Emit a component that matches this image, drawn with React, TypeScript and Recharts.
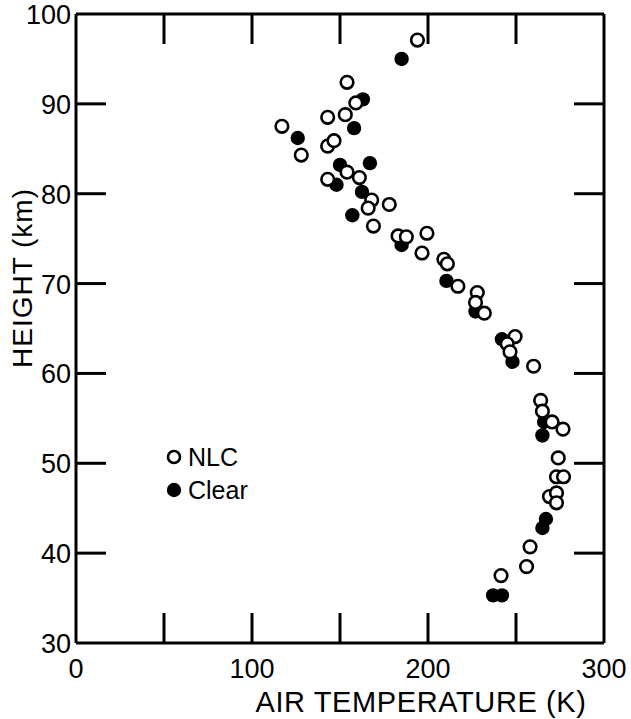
import React from 'react';
import { ScatterChart, Scatter, XAxis, YAxis, Legend, ReferenceLine } from 'recharts';

// NLC (open circles)
const nlcTemp = [194, 154, 159, 143, 153, 117, 128, 143, 146.6, 154, 143, 161, 168, 166, 178, 169, 183, 187.7, 199.4, 196.6, 209, 211, 217, 228, 227, 232, 249.5, 245, 246.6, 260, 264, 265, 270.5, 276.7, 274, 273, 277, 269, 273, 273, 258, 256, 241.5];
const nlcHeight = [97.1, 92.4, 90.1, 88.5, 88.8, 87.5, 84.3, 85.3, 85.9, 82.4, 81.6, 81.8, 79.3, 78.4, 78.8, 76.4, 75.3, 75.2, 75.6, 73.4, 72.7, 72.2, 69.7, 69.0, 67.9, 66.7, 64.1, 63.3, 62.4, 60.8, 57.0, 55.8, 54.6, 53.8, 50.6, 48.5, 48.5, 46.3, 46.7, 45.6, 40.7, 38.5, 37.5];

// Clear (filled circles)
const clearTemp = [185, 163, 158, 126, 150, 167, 148, 162.5, 157, 185, 210.5, 227, 242, 248, 266, 265, 267, 265, 237, 242];
const clearHeight = [95.0, 90.5, 87.3, 86.2, 83.2, 83.4, 81.0, 80.2, 77.6, 74.3, 70.3, 66.9, 63.8, 61.3, 54.6, 53.1, 43.8, 42.8, 35.3, 35.3];

const xTicks = [0, 50, 100, 150, 200, 250, 300];
const xInnerTicks = [50, 100, 150, 200, 250];
const xLabels = [0, 100, 200, 300];
const yTicks = [30, 40, 50, 60, 70, 80, 90, 100];
const yInnerTicks = [40, 50, 60, 70, 80, 90];
const legendOrder = ['NLC', 'Clear'];

const nlcData = nlcTemp.map((t, i) => ({ t, h: nlcHeight[i] }));
const clearData = clearTemp.map((t, i) => ({ t, h: clearHeight[i] }));

const FONT = "'Liberation Sans', Arial, Helvetica, sans-serif";
const TICK_LEN = 30;
const SW = 3;

const BottomLabel = (props: any) => {
  const x = Number(props.x);
  const y = Number(props.y);
  const v = Number(props.payload.value);
  if (!xLabels.includes(v)) return <g />;
  return (
    <text x={x} y={y + 35} textAnchor="middle" fontSize={27} fontFamily={FONT} fill="#000" stroke="none">
      {v}
    </text>
  );
};

const LeftLabel = (props: any) => {
  const x = Number(props.x);
  const y = Number(props.y);
  const v = Number(props.payload.value);
  return (
    <text x={x - 5} y={y + 10} textAnchor="end" fontSize={27} fontFamily={FONT} fill="#000" stroke="none">
      {v}
    </text>
  );
};

const NoLabel = () => <g />;

// Inward tick marks at both ends of a vertical reference line (top & bottom frame)
const VTickPair = (props: any) => {
  const x1 = Number(props.x1), y1 = Number(props.y1), x2 = Number(props.x2), y2 = Number(props.y2);
  const top = Math.min(y1, y2);
  const bot = Math.max(y1, y2);
  return (
    <g>
      <path d={`M${x1},${top} L${x1},${top + TICK_LEN}`} stroke="#000" strokeWidth={SW} fill="none" />
      <path d={`M${x2},${bot} L${x2},${bot - TICK_LEN}`} stroke="#000" strokeWidth={SW} fill="none" />
    </g>
  );
};

// Inward tick marks at both ends of a horizontal reference line (left & right frame)
const HTickPair = (props: any) => {
  const x1 = Number(props.x1), y1 = Number(props.y1), x2 = Number(props.x2), y2 = Number(props.y2);
  const left = Math.min(x1, x2);
  const right = Math.max(x1, x2);
  return (
    <g>
      <path d={`M${left},${y1} L${left + TICK_LEN},${y1}`} stroke="#000" strokeWidth={SW} fill="none" />
      <path d={`M${right},${y2} L${right - TICK_LEN},${y2}`} stroke="#000" strokeWidth={SW} fill="none" />
    </g>
  );
};

const OpenDot = (props: any) => (
  <circle cx={props.cx} cy={props.cy} r={6.3} fill="#fff" stroke="#000" strokeWidth={2.6} />
);
const FilledDot = (props: any) => (
  <circle cx={props.cx} cy={props.cy} r={7.2} fill="#000" stroke="none" />
);

const XTitle = (props: any) => {
  const vb = props.viewBox || { x: 76, y: 643, width: 528 };
  return (
    <text x={Number(vb.x) + 345} y={Number(vb.y) + 69} textAnchor="middle" fontSize={29} fontFamily={FONT} fill="#000" letterSpacing={0.6}>
      AIR TEMPERATURE (K)
    </text>
  );
};

const YTitle = (props: any) => {
  const vb = props.viewBox || { x: 0, y: 14, width: 76, height: 629 };
  const cx = 22;
  const cy = Number(vb.y) + 264;
  return (
    <text
      x={cx}
      y={cy}
      transform={`rotate(-90 ${cx} ${cy})`}
      textAnchor="middle"
      dominantBaseline="central"
      fontSize={28}
      fontFamily={FONT}
      fill="#000"
      letterSpacing={1}
    >
      HEIGHT (km)
    </text>
  );
};

const LegendContent = (props: any) => {
  const payload = [...(props.payload || [])].sort(
    (a: any, b: any) => legendOrder.indexOf(a.value) - legendOrder.indexOf(b.value)
  );
  return (
    <svg width={120} height={70} style={{ display: 'block', overflow: 'visible' }}>
      {payload.map((p: any, i: number) => {
        const yy = 15 + i * 33;
        const open = p.value === 'NLC';
        return (
          <g key={p.value}>
            {open ? (
              <circle cx={14} cy={yy} r={6} fill="#fff" stroke="#000" strokeWidth={2.6} />
            ) : (
              <circle cx={14} cy={yy} r={7.2} fill="#000" />
            )}
            <text x={28} y={yy + 9} fontSize={25} fontFamily={FONT} fill="#000">
              {p.value}
            </text>
          </g>
        );
      })}
    </svg>
  );
};

export default function App() {
  return (
    <div style={{ position: 'absolute', left: 0, top: 0, width: 631, height: 719, background: '#fff' }}>
      <ScatterChart width={631} height={719} margin={{ top: 13, right: 26, bottom: 0, left: 0 }}>
        <XAxis
          xAxisId="b"
          type="number"
          dataKey="t"
          domain={[0, 300]}
          ticks={xTicks}
          interval={0}
          orientation="bottom"
          height={76}
          tickSize={0}
          tickMargin={0}
          tickLine={false}
          tick={BottomLabel}
          axisLine={{ stroke: '#000', strokeWidth: SW }}
          label={{ content: XTitle }}
        />
        <XAxis
          xAxisId="t"
          type="number"
          dataKey="t"
          domain={[0, 300]}
          allowDataOverflow
          ticks={xTicks}
          interval={0}
          orientation="top"
          height={1}
          tickSize={0}
          tickLine={false}
          tick={NoLabel}
          axisLine={{ stroke: '#000', strokeWidth: SW }}
        />
        <YAxis
          yAxisId="l"
          type="number"
          dataKey="h"
          domain={[30, 100]}
          ticks={yTicks}
          interval={0}
          orientation="left"
          width={76}
          tickSize={0}
          tickMargin={0}
          tickLine={false}
          tick={LeftLabel}
          axisLine={{ stroke: '#000', strokeWidth: SW }}
          label={{ content: YTitle }}
        />
        <YAxis
          yAxisId="r"
          type="number"
          dataKey="h"
          domain={[30, 100]}
          allowDataOverflow
          ticks={yTicks}
          interval={0}
          orientation="right"
          width={1}
          tickSize={0}
          tickLine={false}
          tick={NoLabel}
          axisLine={{ stroke: '#000', strokeWidth: SW }}
        />
        {xInnerTicks.map((v) => (
          <ReferenceLine key={`vx${v}`} x={v} xAxisId="b" yAxisId="l" shape={VTickPair} ifOverflow="visible" />
        ))}
        {yInnerTicks.map((v) => (
          <ReferenceLine key={`hy${v}`} y={v} xAxisId="b" yAxisId="l" shape={HTickPair} ifOverflow="visible" />
        ))}
        <Legend
          layout="horizontal"
          verticalAlign="middle"
          align="center"
          content={LegendContent}
          wrapperStyle={{ position: 'absolute', left: 160, top: 442, width: 120, height: 70 }}
        />
        <Scatter
          name="Clear"
          data={clearData}
          xAxisId="b"
          yAxisId="l"
          shape={FilledDot}
          isAnimationActive={false}
        />
        <Scatter
          name="NLC"
          data={nlcData}
          xAxisId="b"
          yAxisId="l"
          shape={OpenDot}
          isAnimationActive={false}
        />
      </ScatterChart>
    </div>
  );
}
